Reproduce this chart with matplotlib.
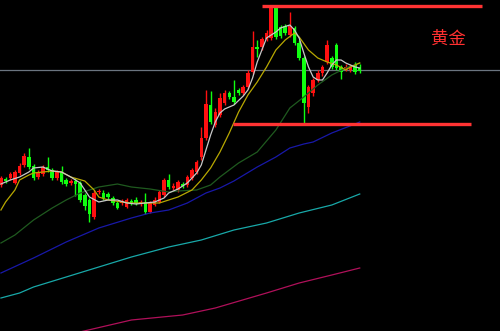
import matplotlib.pyplot as plt

plt.rcParams['font.family'] = ['Noto Sans CJK SC', 'DejaVu Sans']

# daily candles (price units)
opens = [146, 152, 153, 148, 158, 166, 174, 165, 154, 157,
         164, 161, 153, 159, 151, 148, 150, 148, 136, 131,
         114, 139, 138, 137, 133, 128, 128, 124, 130, 131,
         127, 129, 119, 126, 129, 136, 151, 143, 141, 147,
         146, 153, 159, 174, 193, 226, 206, 216, 228, 238,
         234, 241, 238, 244, 259, 284, 284, 292, 293, 324,
         304, 305, 296, 303, 288, 273, 224, 238, 251, 258,
         269, 273, 286, 264, 262, 261, 266, 263]
closes = [153, 150, 157, 159, 165, 175, 164, 153, 159, 164,
          161, 153, 159, 149, 147, 150, 147, 131, 125, 117,
          138, 140, 133, 134, 128, 123, 130, 131, 128, 128,
          129, 119, 128, 131, 139, 151, 144, 145, 149, 145,
          154, 161, 169, 193, 227, 209, 219, 233, 238, 234,
          229, 238, 244, 258, 284, 282, 292, 298, 324, 294,
          295, 298, 305, 288, 273, 228, 244, 251, 258, 264,
          286, 264, 263, 259, 264, 265, 259, 260]
highs = [155, 154, 159, 161, 168, 178, 183, 167, 161, 166,
         174, 163, 161, 165, 153, 152, 153, 150, 138, 133,
         141, 142, 141, 139, 135, 130, 132, 133, 132, 134,
         131, 138, 130, 134, 141, 153, 157, 148, 151, 149,
         156, 163, 171, 204, 241, 240, 223, 238, 241, 240,
         251, 243, 246, 261, 300, 291, 294, 301, 325, 325,
         306, 307, 319, 305, 291, 275, 246, 253, 261, 266,
         291, 275, 288, 266, 267, 267, 269, 267]
lows = [144, 148, 151, 147, 156, 164, 162, 151, 152, 155,
        159, 151, 151, 147, 145, 146, 135, 129, 121, 109,
        112, 137, 131, 132, 126, 122, 126, 123, 126, 126,
        125, 117, 118, 125, 128, 134, 142, 141, 139, 143,
        144, 151, 157, 171, 191, 207, 204, 214, 226, 232,
        227, 236, 236, 242, 257, 274, 281, 290, 291, 292,
        293, 296, 294, 286, 271, 208, 218, 235, 249, 255,
        267, 262, 261, 252, 260, 259, 257, 258]

# moving average lines, read at some bars
ma5_x = [0, 2, 4, 6, 7, 9, 11, 13, 15, 17, 18, 19, 21, 23, 25, 27, 29, 31, 33, 35,
         36, 38, 40, 42, 43, 44, 45, 46, 47, 48, 50, 52, 53, 54, 55, 56, 57, 59, 60, 62,
         63, 64, 65, 66, 67, 68, 69, 70, 71, 72, 73, 74, 76, 77]
ma5_y = [147, 151, 154, 159, 163, 164, 160, 159, 154, 148, 141, 134, 129, 131, 131, 128, 127, 128, 129, 133,
         138, 142, 148, 158, 166, 181, 196, 209, 218, 222, 226, 235, 241, 253, 269, 281, 293, 299, 303, 306,
         301, 293, 278, 264, 254, 251, 251, 258, 266, 271, 271, 268, 264, 263]
ma10_x = [0, 1, 3, 4, 6, 7, 9, 11, 13, 15, 18, 20, 21, 23, 26, 28, 31, 34, 36, 38,
          41, 43, 45, 47, 49, 51, 53, 55, 57, 59, 61, 63, 64, 66, 68, 70, 72, 74, 75, 77]
ma10_y = [121, 129, 141, 151, 156, 158, 159, 160, 159, 154, 150, 141, 134, 131, 129, 128, 128, 128, 131, 134,
          141, 151, 163, 179, 198, 219, 236, 249, 264, 281, 291, 298, 294, 281, 273, 269, 266, 261, 264, 268]
ma30_x = [0, 3, 7, 11, 14, 17, 21, 25, 28, 32, 36, 38, 42, 45, 47, 51, 55, 59, 62, 65, 68, 71, 74, 77]
ma30_y = [88, 96, 111, 123, 131, 138, 144, 147, 144, 142, 139, 140, 141, 146, 154, 168, 179, 201, 223, 234,
          246, 256, 263, 268]
ma60_x = [0, 7, 14, 21, 28, 32, 36, 40, 44, 47, 50, 55, 59, 62, 65, 67, 71, 76, 77]
ma60_y = [58, 73, 89, 103, 113, 118, 121, 128, 138, 143, 150, 164, 174, 183, 187, 189, 198, 207, 209]
ma120_x = [0, 4, 7, 14, 21, 28, 36, 43, 50, 57, 64, 71, 77]
ma120_y = [33, 38, 44, 54, 64, 74, 84, 91, 101, 108, 118, 126, 137]
ma250_x = [16, 28, 39, 46, 57, 64, 71, 77]
ma250_y = [-2, 11, 16, 23, 38, 48, 56, 63]

resistance = 325
support = 207
last_price = 261
res_span = [56.0, 103.2]
sup_span = [49.8, 100.9]

fig = plt.figure(figsize=(5, 3.31), dpi=100)
fig.patch.set_facecolor('black')
ax = fig.add_axes([0, 0, 1, 1])
ax.set_facecolor('black')
ax.set_xlim(-0.2, 107.1)
ax.set_ylim(0, 331)
ax.axis('off')

ax.axhline(last_price, color='#6b7580', lw=0.9, zorder=1)

up_col = '#ff1010'
dn_col = '#10ff10'
for i in range(len(opens)):
    o, c, h, l = opens[i], closes[i], highs[i], lows[i]
    col = up_col if c >= o else dn_col
    ax.vlines(i, l, h, color=col, lw=1, zorder=2)
    ax.bar(i, max(abs(c - o), 1.2), bottom=min(o, c), width=0.75, color=col, zorder=2)

ax.plot(ma250_x, ma250_y, color='#b0105a', lw=0.9, zorder=3)
ax.plot(ma120_x, ma120_y, color='#18a8a8', lw=0.9, zorder=3)
ax.plot(ma60_x, ma60_y, color='#1818a8', lw=0.9, zorder=3)
ax.plot(ma30_x, ma30_y, color='#1f5a1f', lw=0.9, zorder=3)
ax.plot(ma10_x, ma10_y, color='#b8a800', lw=0.9, zorder=3)
ax.plot(ma5_x, ma5_y, color='#c8c8c8', lw=0.9, zorder=3)

ax.hlines(resistance, res_span[0], res_span[1], color='#ff3333', lw=2.4, zorder=4)
ax.hlines(support, sup_span[0], sup_span[1], color='#ff3333', lw=2.4, zorder=4)

ax.text(96.1, 292, '黄金', color='#ff3030', fontsize=12.5, ha='center', va='center')

plt.savefig('out.png', dpi=100, facecolor='black')
